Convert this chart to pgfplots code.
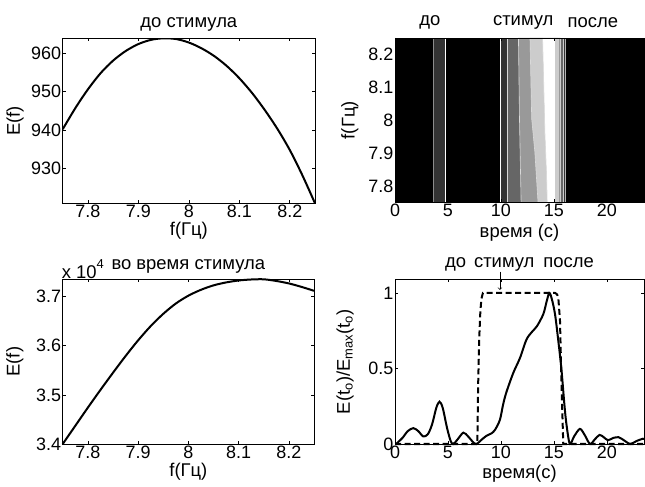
\documentclass[border=0pt]{standalone}
\usepackage{fontspec}
\setmainfont{Liberation Sans}
\usepackage{pgfplots}
\pgfplotsset{compat=1.18}
\begin{document}
\begin{tikzpicture}
\useasboundingbox (0,0) rectangle (645bp,487bp);
\pgfplotsset{
  every axis title shift=0pt,
  every axis/.append style={
    scale only axis,
    font=\fontsize{18.5}{21}\selectfont,
    /pgf/number format/assume math mode=true,
    tick align=inside,
    major tick length=3bp,
    axis line style={line width=0.8bp},
    every tick/.style={black, line width=0.6bp},
    tick label style={font=\fontsize{18}{20}\selectfont},
    yticklabel style={inner xsep=1.5bp},
    xticklabel style={inner ysep=1.5bp},
    scaled ticks=false,
    title style={font=\fontsize{18.5}{21}\selectfont, anchor=center},
    xlabel style={anchor=center},
    ylabel style={anchor=center},
  }
}
% ---------- top left ----------
\begin{axis}[
  at={(62.7bp,283.7bp)}, anchor=south west,
  width=252.3bp, height=165bp,
  xmin=7.75, xmax=8.25, ymin=920.9, ymax=963.9,
  xtick={7.8,7.9,8,8.1,8.2}, ytick={930,940,950,960},
  xlabel={f(Гц)}, ylabel={E(f)},
  xlabel style={at={(axis description cs:0.5,-0.165)}},
  ylabel style={at={(axis description cs:-0.189,0.5)}},
  title={до стимула},
  title style={at={(axis description cs:0.5,1.082)}},
]
\addplot[black, line width=2bp, smooth] coordinates {
(7.75,940.2) (7.775,945.7) (7.80,950.6) (7.825,954.8) (7.85,958.1)
(7.875,960.6) (7.90,962.4) (7.925,963.5) (7.95,963.9) (7.975,963.7)
(8.00,962.8) (8.025,961.3) (8.05,959.3) (8.075,956.7) (8.10,953.5)
(8.125,949.7) (8.15,945.3) (8.175,940.4) (8.20,934.8) (8.225,928.2) (8.25,920.9)};
\end{axis}
% ---------- top right ----------
\begin{axis}[
  at={(395bp,284.5bp)}, anchor=south west,
  width=249bp, height=164.5bp,
  xmin=0, xmax=23.5, ymin=7.75, ymax=8.25,
  xtick={0,5,10,15,20}, ytick={7.8,7.9,8,8.1,8.2},
  xlabel={время (с)}, ylabel={f(Гц)},
  xlabel style={at={(axis description cs:0.5,-0.181)}},
  ylabel style={at={(axis description cs:-0.181,0.5)}},
  axis background/.style={fill=black},
  axis on top,
  clip=false,
]
% isolated band before stimulus
\addplot[fill=black!80, draw=none] coordinates {(3.62,7.75) (4.78,7.75) (4.78,8.25) (3.62,8.25)};
% nested levels
\addplot[fill=black!80, draw=none] coordinates {(9.9,7.75) (16.07,7.75) (16.07,8.25) (9.9,8.25)};
\addplot[fill=black!60, draw=none] coordinates {(10.6,7.75) (15.85,7.75) (15.85,8.25) (10.6,8.25)};
\addplot[fill=black!40, draw=none] coordinates {(11.9,7.75) (15.6,7.75) (15.6,8.25) (11.65,8.25) (11.75,8.0)};
\addplot[fill=black!20, draw=none] coordinates {(13.5,7.75) (15.4,7.75) (15.4,8.25) (12.74,8.25) (12.9,8.005) (13.2,7.903)};
\addplot[fill=white, draw=none] coordinates {(14.37,7.75) (15.1,7.75) (15.1,8.25) (13.93,8.25) (14.0,8.16) (14.15,7.96) (14.3,7.84)};
% contour lines
\addplot[black!45, line width=0.6bp] coordinates {(3.62,7.75) (3.62,8.25)};
\addplot[white, line width=0.6bp] coordinates {(4.78,7.75) (4.78,8.25)};
\addplot[white, line width=0.6bp] coordinates {(9.9,7.75) (9.9,8.25)};
\addplot[white!85!black, line width=0.6bp] coordinates {(10.6,7.75) (10.6,8.25)};
\addplot[white!85!black, line width=0.6bp] coordinates {(11.9,7.75) (11.75,8.0) (11.65,8.25)};
\addplot[white!85!black, line width=0.6bp] coordinates {(13.5,7.75) (13.2,7.903) (12.9,8.005) (12.74,8.25)};
\addplot[white!85!black, line width=0.6bp] coordinates {(14.37,7.75) (14.3,7.84) (14.15,7.96) (14.0,8.16) (13.93,8.25)};
\addplot[white!80!black, line width=0.5bp] coordinates {(15.1,7.75) (15.1,8.25)};
\addplot[white!80!black, line width=0.5bp] coordinates {(15.4,7.75) (15.4,8.25)};
\addplot[white!80!black, line width=0.5bp] coordinates {(15.6,7.75) (15.6,8.25)};
\addplot[white!80!black, line width=0.5bp] coordinates {(15.85,7.75) (15.85,8.25)};
\addplot[white!70!black, line width=0.5bp] coordinates {(16.07,7.75) (16.07,8.25)};
\node at (axis description cs:0.14,1.093) {до};
\node at (axis description cs:0.515,1.093) {стимул};
\node at (axis description cs:0.795,1.093) {после};
\end{axis}
% ---------- bottom left ----------
\begin{axis}[
  at={(62.7bp,43bp)}, anchor=south west,
  width=251.3bp, height=164.7bp,
  xmin=7.75, xmax=8.25, ymin=3.4, ymax=3.7354,
  xtick={7.8,7.9,8,8.1,8.2}, ytick={3.4,3.5,3.6,3.7},
  yticklabel style={/pgf/number format/.cd, fixed, precision=1},
  xlabel={f(Гц)}, ylabel={E(f)},
  xlabel style={at={(axis description cs:0.5,-0.168)}},
  ylabel style={at={(axis description cs:-0.19,0.5)}},
  title={во время стимула},
  title style={at={(axis description cs:0.5,1.081)}},
  clip=false,
]
\addplot[black, line width=2bp, smooth] coordinates {
(7.75,3.400) (7.775,3.437) (7.80,3.474) (7.825,3.510) (7.85,3.545)
(7.875,3.579) (7.90,3.611) (7.925,3.640) (7.95,3.665) (7.975,3.686)
(8.00,3.702) (8.025,3.714) (8.05,3.723) (8.075,3.729) (8.10,3.733)
(8.125,3.735) (8.15,3.7354) (8.175,3.732) (8.20,3.727) (8.225,3.720) (8.25,3.712)};
\node[anchor=base west, inner sep=0pt] at (axis description cs:-0.004,1.006) {x 10\raisebox{0.55em}{\fontsize{13}{14}\selectfont 4}};
\end{axis}
% ---------- bottom right ----------
\begin{axis}[
  at={(395bp,43bp)}, anchor=south west,
  width=249bp, height=164.7bp,
  xmin=0, xmax=23.5, ymin=0, ymax=1.09,
  xtick={0,5,10,15,20}, ytick={0,0.5,1},
  xlabel={время(с)}, ylabel={E(t\textsubscript{o})/E\textsubscript{max}(t\textsubscript{o})},
  xlabel style={at={(axis description cs:0.5,-0.178)}},
  ylabel style={at={(axis description cs:-0.2,0.5)}},
  title={до\hspace{8bp}стимул\hspace{9bp}после},
  title style={at={(axis description cs:0.5,1.089)}},
  clip=false,
]
\addplot[black, line width=2bp, dash pattern=on 6bp off 3.5bp] coordinates {
(0,0) (7.77,0) (7.85,0.4) (7.95,0.7) (8.05,0.87) (8.15,0.96) (8.3,1.0)
(15.1,1.0) (15.3,0.99) (15.42,0.96) (15.57,0.82) (15.72,0.38) (15.88,0) (23.5,0)};
\addplot[black, line width=2bp, smooth, tension=0.5] coordinates {
(0.1,0) (0.7,0.04) (1.2,0.085) (1.73,0.105) (2.2,0.085) (2.67,0.05) (3.1,0.065)
(3.5,0.13) (3.9,0.24) (4.2,0.28) (4.5,0.24) (4.9,0.11) (5.25,0.02) (5.5,0)
(5.9,0.03) (6.45,0.075) (6.9,0.05) (7.4,0.01) (7.7,0) (8.2,0.03) (8.65,0.055)
(9.1,0.07) (9.45,0.095) (9.9,0.16) (10.2,0.26) (10.5,0.34) (11.16,0.47)
(11.8,0.57) (12.4,0.69) (12.9,0.74) (13.4,0.78) (14.0,0.86) (14.3,0.94)
(14.56,1.0) (14.8,0.96) (15.1,0.86) (15.4,0.69) (15.7,0.5) (16.0,0.25)
(16.2,0.12) (16.5,0) (16.9,0.05) (17.45,0.10) (17.9,0.06) (18.4,0)
(18.85,0.03) (19.3,0.06) (19.7,0.045) (20.1,0.025) (20.6,0.04) (21.1,0.045)
(21.6,0.025) (22.2,0) (22.8,0.02) (23.4,0.035) (23.5,0.033)};
\draw[->, line width=0.7bp] (axis cs:9.9,1.141) -- (axis cs:9.9,1.02);
\end{axis}
\end{tikzpicture}
\end{document}
